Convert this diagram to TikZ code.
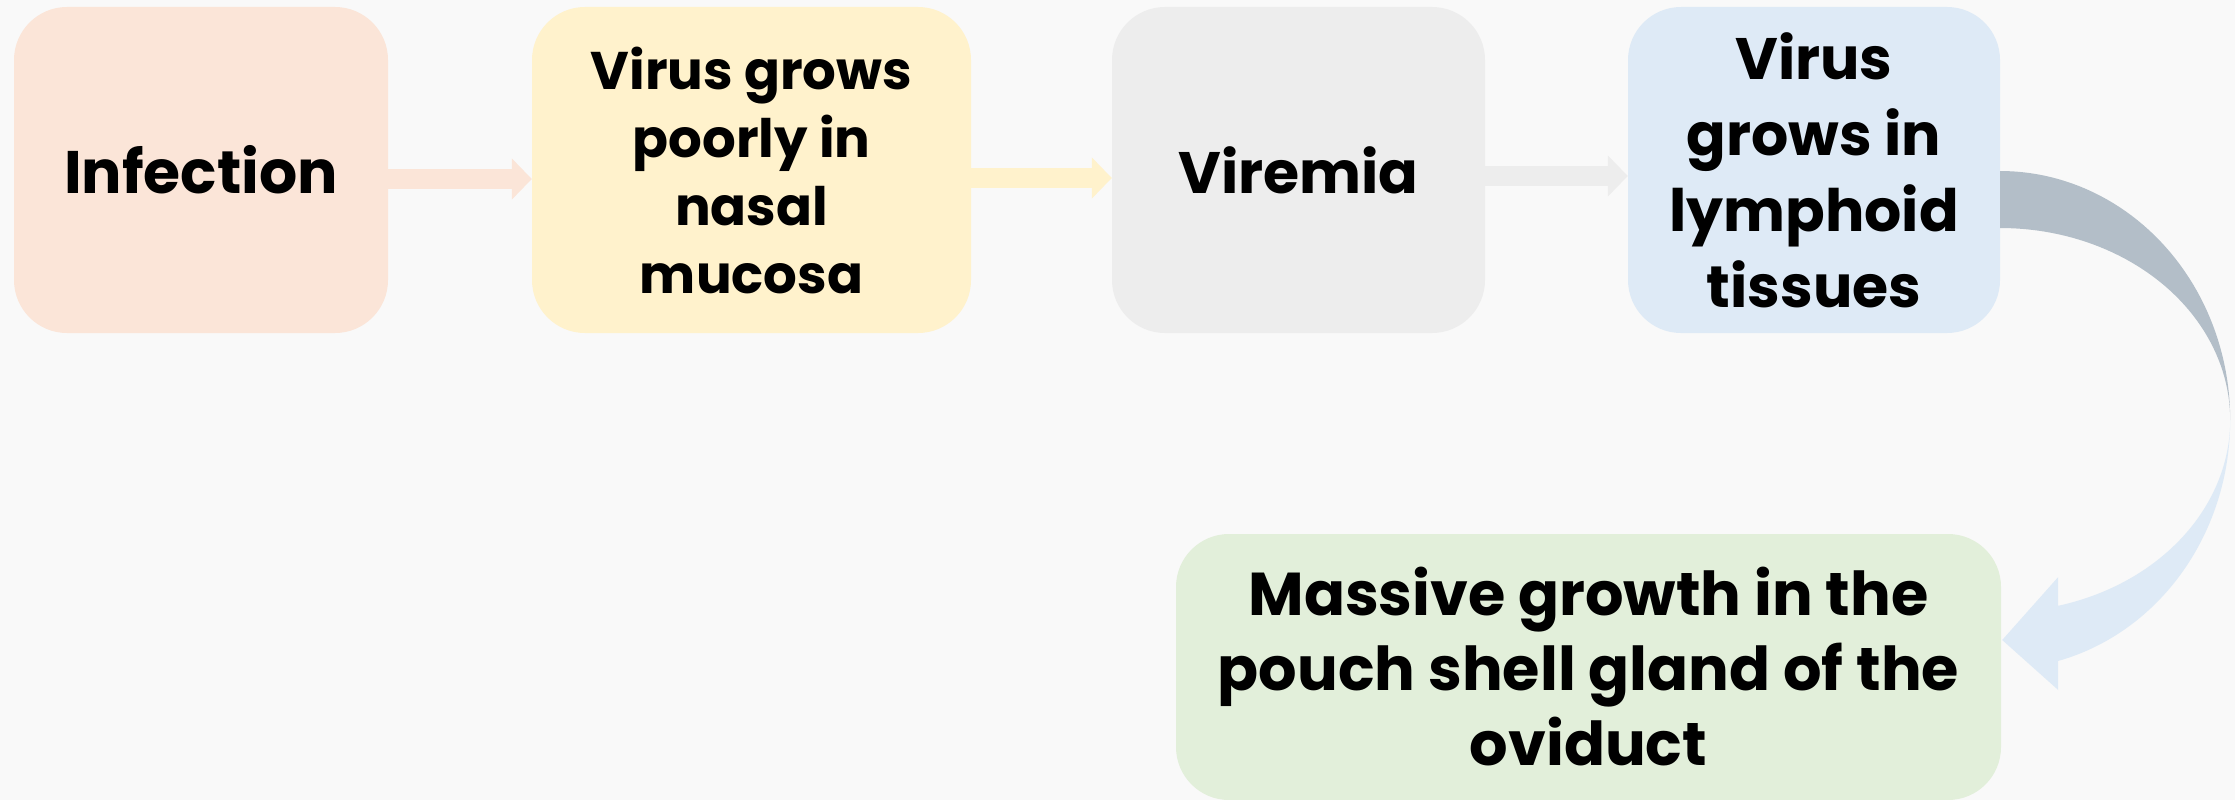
\documentclass[tikz,border=0pt]{standalone}
\usepackage{fontspec}
\setmainfont{Poppins}
\usetikzlibrary{arrows.meta}
\definecolor{paper}{HTML}{F9F9F9}
\definecolor{peach}{HTML}{FBE5D8}
\definecolor{cream}{HTML}{FFF2CC}
\definecolor{mist}{HTML}{EDEDED}
\definecolor{sky}{HTML}{DEEAF6}
\definecolor{sage}{HTML}{E2EFDA}
\definecolor{slate}{HTML}{B3BEC8}
\tikzset{
  stage/.style={rounded corners=53pt, inner sep=0pt, align=center, text=black},
  flow/.style={line width=20pt, -{Triangle[length=20pt,width=40pt]}},
}
\begin{document}
\begin{tikzpicture}[x=1pt,y=-1pt]
            \useasboundingbox (0,0) rectangle (2235,800);
            \clip (0,0) rectangle (2235,800);
            \fill[paper] (0,0) rectangle (2235,800);
            % top row
            \node[stage, fill=peach, minimum width=374pt, minimum height=326pt,
                  font=\bfseries\fontsize{60}{72}\selectfont] (infection) at (201,170) {Infection};
            \node[stage, fill=cream, minimum width=439pt, minimum height=326pt,
                  font=\bfseries\fontsize{53}{68}\selectfont] (nasal) at (751.5,170) {Virus grows\\poorly in\\nasal\\mucosa};
            \node[stage, fill=mist, minimum width=373pt, minimum height=326pt,
                  font=\bfseries\fontsize{58.5}{70}\selectfont] (viremia) at (1298.5,170) {Viremia};
            \node[stage, fill=sky, minimum width=372pt, minimum height=326pt,
                  font=\bfseries\fontsize{58.5}{76}\selectfont] (lymph) at (1814,170) {Virus\\grows in\\lymphoid\\tissues};
            % bottom box
            \node[stage, fill=sage, minimum width=825pt, minimum height=266pt,
                  font=\bfseries\fontsize{60.5}{75}\selectfont] (oviduct) at (1588.5,667) {Massive growth in the\\pouch shell gland of the\\oviduct};
            % straight arrows
            \draw[flow, peach] ([yshift=-9pt]infection.east) -- ([yshift=-9pt]nasal.west);
            \draw[flow, cream] ([yshift=-8pt]nasal.east) -- ([yshift=-8pt]viremia.west);
            \draw[flow, mist] ([yshift=-6pt]viremia.east) -- ([yshift=-6pt]lymph.west);
            % curved arrow
            \coordinate (bend) at ([yshift=-250pt]lymph.east);
            \begin{scope}[shift={(bend)}]
            \fill[slate] plot[domain=90:0, samples=50] ({230*cos(\x)},{-249*sin(\x)})
                -- plot[domain=0:90, samples=50] ({230*cos(\x)},{-192*sin(\x)}) -- cycle;
            \fill[sky] plot[domain=0:-75.4, samples=50] ({230*cos(\x)},{-249*sin(\x)})
                -- (58,270) -- (2,220) -- (58,157)
                -- plot[domain=-75.4:0, samples=50] ({230*cos(\x)},{-192*sin(\x)}) -- cycle;
            \end{scope}
        \end{tikzpicture}
\end{document}
